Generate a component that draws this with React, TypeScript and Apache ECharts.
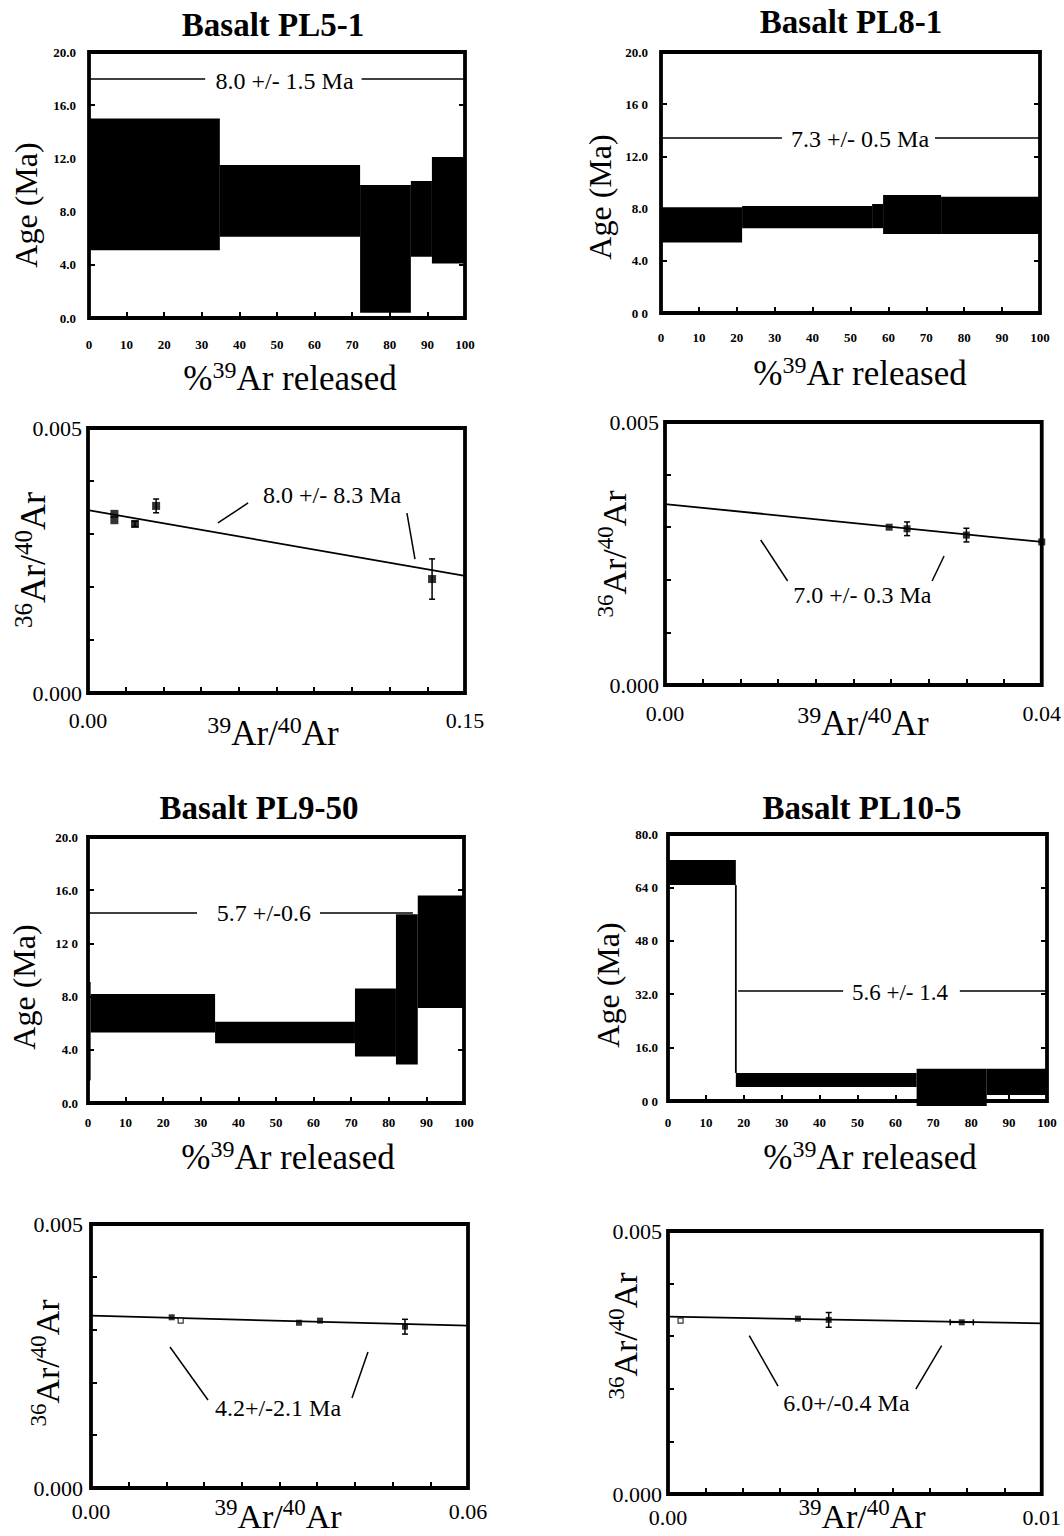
import React, { useEffect, useRef } from 'react';
import * as echarts from 'echarts';

const FONT = '"Liberation Serif", "Times New Roman", Times, serif';

// ---------------- Age spectra: [start %39Ar, end %39Ar, age low, age high] ----------------
const spectrumXLabels = ['0', '10', '20', '30', '40', '50', '60', '70', '80', '90', '100'];

const pl51Steps = [
  [0, 34.8, 5.1, 15.0],
  [34.8, 72.1, 6.1, 11.5],
  [72.1, 85.6, 0.4, 10.0],
  [85.6, 91.2, 4.6, 10.3],
  [91.2, 100, 4.1, 12.1],
];
const pl51YLabels = ['0.0', '4.0', '8.0', '12.0', '16.0', '20.0'];
const pl51PlateauAge = 18.0;
const pl51PlateauSegments = [[0, 30.9], [72.5, 100]];
const pl51PlateauText = '8.0 +/- 1.5 Ma';
const pl51PlateauTextAt = [52, 17.8];

const pl81Steps = [
  [0, 21.4, 5.4, 8.1],
  [21.4, 55.7, 6.5, 8.2],
  [55.7, 58.6, 6.5, 8.35],
  [58.6, 73.9, 6.05, 9.05],
  [73.9, 100, 6.05, 8.9],
];
const pl81YLabels = ['0 0', '4.0', '8.0', '12.0', '16 0', '20.0'];
const pl81PlateauAge = 13.4;
const pl81PlateauSegments = [[0, 31.9], [72.3, 100]];
const pl81PlateauText = '7.3 +/- 0.5 Ma';
const pl81PlateauTextAt = [52.5, 13.3];

const pl950Steps = [
  [0, 0.7, 1.7, 9.1],
  [0.7, 33.8, 5.3, 8.2],
  [33.8, 71.0, 4.5, 6.1],
  [71.0, 81.9, 3.5, 8.6],
  [81.9, 87.7, 2.9, 14.2],
  [87.7, 100, 7.15, 15.6],
];
const pl950YLabels = ['0.0', '4.0', '8.0', '12 0', '16.0', '20.0'];
const pl950PlateauAge = 14.3;
const pl950PlateauSegments = [[0, 29.0], [61.7, 86.4]];
const pl950PlateauText = '5.7 +/-0.6';
const pl950PlateauTextAt = [46.8, 14.3];

const pl105Steps = [
  [0, 17.9, 64.7, 72.2],
  [17.9, 65.6, 4.2, 8.4],
  [65.6, 84.1, -1.5, 9.7],
  [84.1, 100, 1.8, 9.7],
];
const pl105YLabels = ['0 0', '16.0', '32.0', '48 0', '64 0', '80.0'];
const pl105PlateauAge = 33.1;
const pl105PlateauSegments = [[18.5, 46.2], [77.0, 100]];
const pl105PlateauText = '5.6 +/- 1.4';
const pl105PlateauTextAt = [61.2, 32.5];

// ---------------- Isochrons: points [39Ar/40Ar, 36Ar/40Ar] ----------------
const isoYLabels = ['0.000', '', '', '', '', '0.005'];

const pl51IsoPoints = [[0.0105, 0.00338], [0.0105, 0.00326], [0.0187, 0.00319], [0.0271, 0.00353], [0.1369, 0.00215]];
const pl51IsoOpen: number[][] = [];
const pl51IsoErrors = [[0.0187, 0.00319, 0.00005, 0], [0.0271, 0.00353, 0.00013, 0], [0.1369, 0.00215, 0.00038, 0]];
const pl51IsoFit = [[0, 0.00345], [0.15, 0.00221]];
const pl51IsoXLabels = ['0.00', '', '', '', '', '', '', '', '', '', '0.15'];
const pl51IsoLeaders = [[[0.0517, 0.003208], [0.0637, 0.003585]], [[0.1269, 0.003396], [0.1301, 0.002528]]];
const pl51IsoText = '8.0 +/- 8.3 Ma';
const pl51IsoTextAt = [0.0971, 0.00373];

const pl81IsoPoints = [[0.0238, 0.0030], [0.0257, 0.00297], [0.0320, 0.00285], [0.0400, 0.00272]];
const pl81IsoOpen: number[][] = [];
const pl81IsoErrors = [[0.0257, 0.00297, 0.00013, 0], [0.0320, 0.00285, 0.00013, 0]];
const pl81IsoFit = [[0, 0.00344], [0.04, 0.00272]];
const pl81IsoXLabels = ['0.00', '', '', '', '', '', '', '', '', '', '0.04'];
const pl81IsoLeaders = [[[0.01016, 0.002757], [0.01302, 0.001977]], [[0.02963, 0.002452], [0.02836, 0.001977]]];
const pl81IsoText = '7.0 +/- 0.3 Ma';
const pl81IsoTextAt = [0.02095, 0.00171];

const pl950IsoPoints = [[0.01284, 0.003233], [0.0331, 0.00313], [0.03645, 0.00317], [0.04997, 0.003055]];
const pl950IsoOpen = [[0.01427, 0.00317]];
const pl950IsoErrors = [[0.04997, 0.003055, 0.00014, 0]];
const pl950IsoFit = [[0, 0.003263], [0.06, 0.003074]];
const pl950IsoXLabels = ['0.00', '', '', '', '', '', '', '', '', '', '0.06'];
const pl950IsoLeaders = [[[0.01257, 0.00267], [0.01862, 0.001667]], [[0.04408, 0.002576], [0.04154, 0.001705]]];
const pl950IsoText = '4.2+/-2.1 Ma';
const pl950IsoTextAt = [0.02976, 0.00152];

const pl105IsoPoints = [[0.003475, 0.003333], [0.0043, 0.00331], [0.00786, 0.003264]];
const pl105IsoOpen = [[0.000336, 0.003295]];
const pl105IsoErrors = [[0.0043, 0.00331, 0.00014, 0], [0.00786, 0.003264, 0, 0.00031]];
const pl105IsoFit = [[0, 0.003371], [0.01, 0.003245]];
const pl105IsoXLabels = ['0.00', '', '', '', '', '', '', '', '', '', '0.01'];
const pl105IsoLeaders = [[[0.002175, 0.003009], [0.002944, 0.002053]], [[0.007321, 0.002819], [0.006631, 0.001996]]];
const pl105IsoText = '6.0+/-0.4 Ma';
const pl105IsoTextAt = [0.004775, 0.00173];

// ---------------- layout ----------------
const RECT = {
  p1: [89, 52, 376, 266],
  p2: [661, 52, 379, 261],
  p3: [88, 428, 377, 265],
  p4: [665, 422, 378, 263],
  p5: [88, 837, 376, 266],
  p6: [668, 834, 379, 267],
  p7: [91, 1224, 377, 264],
  p8: [668, 1231, 377, 263],
};

function buildOption() {
  const grid: any[] = [];
  const xAxis: any[] = [];
  const yAxis: any[] = [];
  const series: any[] = [];
  const graphic: any[] = [];

  const tick = { show: true, inside: true, length: 6, lineStyle: { color: '#000', width: 2 } };

  const addGrid = (r: number[]) => {
    grid.push({ left: r[0], top: r[1], width: r[2], height: r[3], show: true, borderColor: '#000', borderWidth: 3.8, backgroundColor: 'transparent' });
    return grid.length - 1;
  };

  const textSeries = (xi: number, yi: number, at: number[], text: string, size: number) => ({
    type: 'custom', xAxisIndex: xi, yAxisIndex: yi, data: [at], clip: false, z: 6, silent: true,
    renderItem: (_p: any, api: any) => {
      const c = api.coord([api.value(0), api.value(1)]);
      return {
        type: 'text', x: c[0], y: c[1],
        style: { text, fontSize: size, fontFamily: FONT, fill: '#000', align: 'center', verticalAlign: 'middle', textAlign: 'center', textVerticalAlign: 'middle' },
      };
    },
  });

  const segSeries = (xi: number, yi: number, segs: number[][][], width: number) => ({
    type: 'lines', coordinateSystem: 'cartesian2d', xAxisIndex: xi, yAxisIndex: yi, polyline: false, silent: true, z: 4,
    symbol: ['none', 'none'],
    data: segs.map((s) => ({ coords: s })),
    lineStyle: { color: '#000', width, opacity: 1, type: 'solid' },
  });

  const addSpectrum = (c: any) => {
    const g = addGrid(c.rect);
    const step = c.yMax / 5;
    const xi = xAxis.push({
      gridIndex: g, type: 'value', min: 0, max: 100, interval: 10,
      axisLine: { show: false }, splitLine: { show: false }, axisTick: tick,
      axisLabel: { margin: c.xMargin, color: '#000', fontFamily: FONT, fontSize: 13, fontWeight: 'bold', formatter: (v: number) => spectrumXLabels[Math.round(v / 10)] ?? '' },
    }) - 1;
    const yi = yAxis.push({
      gridIndex: g, type: 'value', position: 'left', min: 0, max: c.yMax, interval: step,
      axisLine: { show: false }, splitLine: { show: false }, axisTick: tick,
      axisLabel: { margin: c.yMargin, color: '#000', fontFamily: FONT, fontSize: 13, fontWeight: 'bold', formatter: (v: number) => c.yLabels[Math.round(v / step)] ?? '' },
    }) - 1;
    yAxis.push({
      gridIndex: g, type: 'value', position: 'right', min: 0, max: c.yMax, interval: step,
      axisLine: { show: false }, splitLine: { show: false }, axisTick: tick, axisLabel: { show: false },
    });
    const steps: number[][] = c.steps;
    series.push({
      type: 'custom', xAxisIndex: xi, yAxisIndex: yi, data: steps, encode: { x: [0, 1], y: [2, 3] }, clip: false, z: 3, silent: true,
      renderItem: (p: any, api: any) => {
        const i = p.dataIndex;
        const s = steps[i];
        const tl = api.coord([s[0], s[3]]);
        const br = api.coord([s[1], s[2]]);
        const children: any[] = [{ type: 'rect', shape: { x: tl[0], y: tl[1], width: br[0] - tl[0], height: br[1] - tl[1] }, style: { fill: '#000' } }];
        if (i > 0) {
          const pr = steps[i - 1];
          let a: number[] | null = null;
          if (pr[2] > s[3]) a = [pr[2], s[3]];
          else if (pr[3] < s[2]) a = [pr[3], s[2]];
          if (a) {
            const c0 = api.coord([s[0], a[0]]);
            const c1 = api.coord([s[0], a[1]]);
            children.push({ type: 'line', shape: { x1: c0[0], y1: c0[1], x2: c1[0], y2: c1[1] }, style: { stroke: '#000', lineWidth: 1.8 } });
          }
        }
        return { type: 'group', children };
      },
    });
    series.push(segSeries(xi, yi, c.segs.map((s: number[]) => [[s[0], c.age], [s[1], c.age]]), 1.5));
    series.push(textSeries(xi, yi, c.textAt, c.text, c.textSize));
  };

  const addIsochron = (c: any) => {
    const g = addGrid(c.rect);
    const xStep = c.xMax / 10;
    const xi = xAxis.push({
      gridIndex: g, type: 'value', min: 0, max: c.xMax, interval: xStep,
      axisLine: { show: false }, splitLine: { show: false }, axisTick: tick,
      axisLabel: { margin: c.xMargin, color: '#000', fontFamily: FONT, fontSize: 22, formatter: (v: number) => c.xLabels[Math.round(v / xStep)] ?? '' },
    }) - 1;
    const yi = yAxis.push({
      gridIndex: g, type: 'value', position: 'left', min: 0, max: 0.005, interval: 0.001,
      axisLine: { show: false }, splitLine: { show: false }, axisTick: tick,
      axisLabel: { margin: c.yMargin, color: '#000', fontFamily: FONT, fontSize: 22, formatter: (v: number) => isoYLabels[Math.round(v / 0.001)] ?? '' },
    }) - 1;
    series.push(segSeries(xi, yi, [c.fit], 1.8));
    series.push(segSeries(xi, yi, c.leaders, 1.5));
    series.push({
      type: 'custom', xAxisIndex: xi, yAxisIndex: yi, data: c.errors, clip: false, z: 5, silent: true,
      renderItem: (_p: any, api: any) => {
        const x = api.value(0), y = api.value(1), e = api.value(2), xe = api.value(3);
        const ch: any[] = [];
        const ln = (a: number[], b: number[]) => ({ type: 'line', shape: { x1: a[0], y1: a[1], x2: b[0], y2: b[1] }, style: { stroke: '#000', lineWidth: 1.5 } });
        if (e > 0) {
          const a = api.coord([x, y + e]);
          const b = api.coord([x, y - e]);
          ch.push(ln(a, b), ln([a[0] - 3, a[1]], [a[0] + 3, a[1]]), ln([b[0] - 3, b[1]], [b[0] + 3, b[1]]));
        }
        if (xe > 0) {
          const a = api.coord([x - xe, y]);
          const b = api.coord([x + xe, y]);
          ch.push(ln(a, b), ln([a[0], a[1] - 3], [a[0], a[1] + 3]), ln([b[0], b[1] - 3], [b[0], b[1] + 3]));
        }
        return { type: 'group', children: ch };
      },
    });
    series.push({
      type: 'scatter', xAxisIndex: xi, yAxisIndex: yi, data: c.points, symbol: 'rect', symbolSize: c.sym, z: 6, silent: true,
      itemStyle: { color: '#000' },
    });
    if (c.open.length) {
      series.push({
        type: 'scatter', xAxisIndex: xi, yAxisIndex: yi, data: c.open, symbol: 'rect', symbolSize: c.sym - 1, z: 6, silent: true,
        itemStyle: { color: '#fff', borderColor: '#000', borderWidth: 1.2 },
      });
    }
    series.push(textSeries(xi, yi, c.textAt, c.text, 24));
  };

  addSpectrum({ rect: RECT.p1, steps: pl51Steps, yMax: 20, yLabels: pl51YLabels, age: pl51PlateauAge, segs: pl51PlateauSegments, text: pl51PlateauText, textAt: pl51PlateauTextAt, textSize: 24, xMargin: 20, yMargin: 13 });
  addSpectrum({ rect: RECT.p2, steps: pl81Steps, yMax: 20, yLabels: pl81YLabels, age: pl81PlateauAge, segs: pl81PlateauSegments, text: pl81PlateauText, textAt: pl81PlateauTextAt, textSize: 24, xMargin: 18, yMargin: 13 });
  addIsochron({ rect: RECT.p3, xMax: 0.15, xLabels: pl51IsoXLabels, points: pl51IsoPoints, open: pl51IsoOpen, errors: pl51IsoErrors, fit: pl51IsoFit, leaders: pl51IsoLeaders, text: pl51IsoText, textAt: pl51IsoTextAt, sym: 8, xMargin: 16, yMargin: 6 });
  addIsochron({ rect: RECT.p4, xMax: 0.04, xLabels: pl81IsoXLabels, points: pl81IsoPoints, open: pl81IsoOpen, errors: pl81IsoErrors, fit: pl81IsoFit, leaders: pl81IsoLeaders, text: pl81IsoText, textAt: pl81IsoTextAt, sym: 7, xMargin: 17, yMargin: 6 });
  addSpectrum({ rect: RECT.p5, steps: pl950Steps, yMax: 20, yLabels: pl950YLabels, age: pl950PlateauAge, segs: pl950PlateauSegments, text: pl950PlateauText, textAt: pl950PlateauTextAt, textSize: 24, xMargin: 13, yMargin: 10 });
  addSpectrum({ rect: RECT.p6, steps: pl105Steps, yMax: 80, yLabels: pl105YLabels, age: pl105PlateauAge, segs: pl105PlateauSegments, text: pl105PlateauText, textAt: pl105PlateauTextAt, textSize: 23, xMargin: 15, yMargin: 10 });
  addIsochron({ rect: RECT.p7, xMax: 0.06, xLabels: pl950IsoXLabels, points: pl950IsoPoints, open: pl950IsoOpen, errors: pl950IsoErrors, fit: pl950IsoFit, leaders: pl950IsoLeaders, text: pl950IsoText, textAt: pl950IsoTextAt, sym: 6, xMargin: 12, yMargin: 8 });
  addIsochron({ rect: RECT.p8, xMax: 0.01, xLabels: pl105IsoXLabels, points: pl105IsoPoints, open: pl105IsoOpen, errors: pl105IsoErrors, fit: pl105IsoFit, leaders: pl105IsoLeaders, text: pl105IsoText, textAt: pl105IsoTextAt, sym: 6, xMargin: 12, yMargin: 6 });

  // ---------- titles and axis names ----------
  const plain = (x: number, y: number, text: string, size: number, bold: boolean, rotate: boolean) => ({
    type: 'text', x, y, rotation: rotate ? Math.PI / 2 : 0, silent: true,
    style: { text, fontSize: size, fontFamily: FONT, fontWeight: bold ? 'bold' : 'normal', fill: '#000', align: 'center', verticalAlign: 'middle', textAlign: 'center', textVerticalAlign: 'middle' },
  });
  const rich = (x: number, y: number, text: string, main: number, sup: number, rotate: boolean) => ({
    type: 'text', x, y, rotation: rotate ? Math.PI / 2 : 0, silent: true,
    style: {
      text, fill: '#000', align: 'center', verticalAlign: 'middle', textAlign: 'center', textVerticalAlign: 'middle',
      rich: {
        a: { fontSize: main, fontFamily: FONT, lineHeight: main * 1.1, verticalAlign: 'bottom', fill: '#000', color: '#000' },
        s: { fontSize: sup, fontFamily: FONT, lineHeight: sup, verticalAlign: 'top', fill: '#000', color: '#000' },
      },
    },
  });

  graphic.push(plain(273, 25, 'Basalt PL5-1', 33, true, false));
  graphic.push(plain(851, 22, 'Basalt PL8-1', 33, true, false));
  graphic.push(plain(259, 808, 'Basalt PL9-50', 33, true, false));
  graphic.push(plain(862, 808, 'Basalt PL10-5', 33, true, false));

  const ageTitle = 'Age (Ma)';
  graphic.push(plain(26, 205, ageTitle, 32, false, true));
  graphic.push(plain(600, 197, ageTitle, 32, false, true));
  graphic.push(plain(24, 987, ageTitle, 32, false, true));
  graphic.push(plain(608, 985, ageTitle, 32, false, true));

  const releasedTitle = '{a|%}{s|39}{a|Ar released}';
  graphic.push(rich(290, 377, releasedTitle, 35, 24, false));
  graphic.push(rich(860, 372, releasedTitle, 35, 24, false));
  graphic.push(rich(288, 1156, releasedTitle, 35, 24, false));
  graphic.push(rich(870, 1156, releasedTitle, 35, 24, false));

  const isoXTitle = '{s|39}{a|Ar/}{s|40}{a|Ar}';
  graphic.push(rich(273, 732, isoXTitle, 35, 24, false));
  graphic.push(rich(863, 722, isoXTitle, 35, 24, false));
  graphic.push(rich(278, 1515, isoXTitle, 34, 23, false));
  graphic.push(rich(862, 1515, isoXTitle, 34, 23, false));

  const isoYTitle = '{s|36}{a|Ar/}{s|40}{a|Ar}';
  graphic.push(rich(31, 560, isoYTitle, 36, 25, true));
  graphic.push(rich(613, 554, isoYTitle, 34, 23, true));
  graphic.push(rich(46, 1363, isoYTitle, 34, 23, true));
  graphic.push(rich(624, 1336, isoYTitle, 34, 23, true));

  return { animation: false, backgroundColor: '#fff', grid, xAxis, yAxis, series, graphic };
}

export default function App() {
  const ref = useRef<HTMLDivElement>(null);
  useEffect(() => {
    document.body.style.margin = '0';
    const chart = echarts.init(ref.current!, null, { renderer: 'svg' });
    chart.setOption(buildOption() as any);
    return () => chart.dispose();
  }, []);
  return <div ref={ref} style={{ width: 1064, height: 1536, background: '#fff' }} />;
}
